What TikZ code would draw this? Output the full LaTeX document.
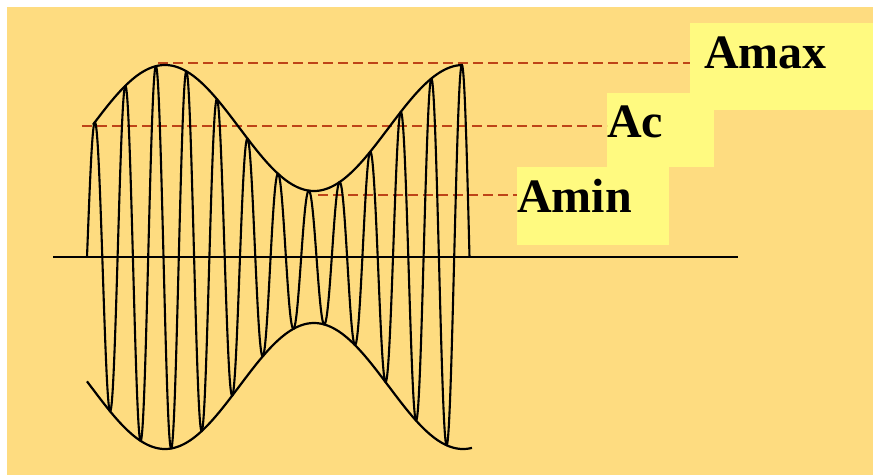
\documentclass[tikz,border=0pt]{standalone}
\usepackage{fontspec}
\setmainfont{Liberation Serif}
\definecolor{bgyellow}{HTML}{FEDC80}
\definecolor{boxyellow}{HTML}{FFFA80}
\definecolor{dashred}{HTML}{BE4418}
\tikzset{
  wave/.style={black, line width=2.1pt, line join=round},
  envelope/.style={black, line width=2.2pt},
  levelline/.style={dashred, line width=2pt, dash pattern=on 10pt off 5pt},
  lbl/.style={font=\bfseries\fontsize{48}{48}\selectfont, inner sep=0pt, anchor=base west, text=black},
  lblbox/.style={fill=boxyellow, draw=none}
}
\begin{document}
\begin{tikzpicture}[x=1pt, y=-1pt]
\useasboundingbox (0,0) rectangle (873,475);
\fill[white] (0,0) rectangle (873,475);
\fill[bgyellow] (7,7) rectangle (873,475);
% label boxes
\fill[lblbox] (690,23) rectangle (873,110);
\fill[lblbox] (607,93) rectangle (714,167);
\fill[lblbox] (517,167) rectangle (669,245);
% labels
\node[lbl] (amax) at (704,68) {Amax};
\node[lbl] (ac) at (607,137) {Ac};
\node[lbl] (amin) at (517,212) {Amin};
% dashed levels
\coordinate (pmax) at (158,63);
\coordinate (pc) at (82,126);
\coordinate (pmin) at (318,195);
\coordinate (emax) at (690,63);
\coordinate (ec) at (607,126);
\coordinate (emin) at (517,195);
\draw[levelline] (pmax) -- (emax);
\draw[levelline] (pc) -- (ec);
\draw[levelline] (pmin) -- (emin);
% axis
\coordinate (ax1) at (53,257);
\coordinate (ax2) at (738,257);
\draw[black, line width=2.2pt] (ax1) -- (ax2);
% envelopes
\draw[envelope] plot[domain=93:463, samples=200] (\x, {257 - (129+63*cos((\x-165)/298*360))});
\draw[envelope] plot[domain=87:472, samples=200] (\x, {257 + (129+63*cos((\x-165)/298*360))});
% modulated carrier
\draw[wave] plot[domain=87:469.5, samples=1500] (\x, {257 - (129+63*cos((\x-165)/298*360))*sin((\x-87)/30.6*360)});
\end{tikzpicture}
\end{document}
